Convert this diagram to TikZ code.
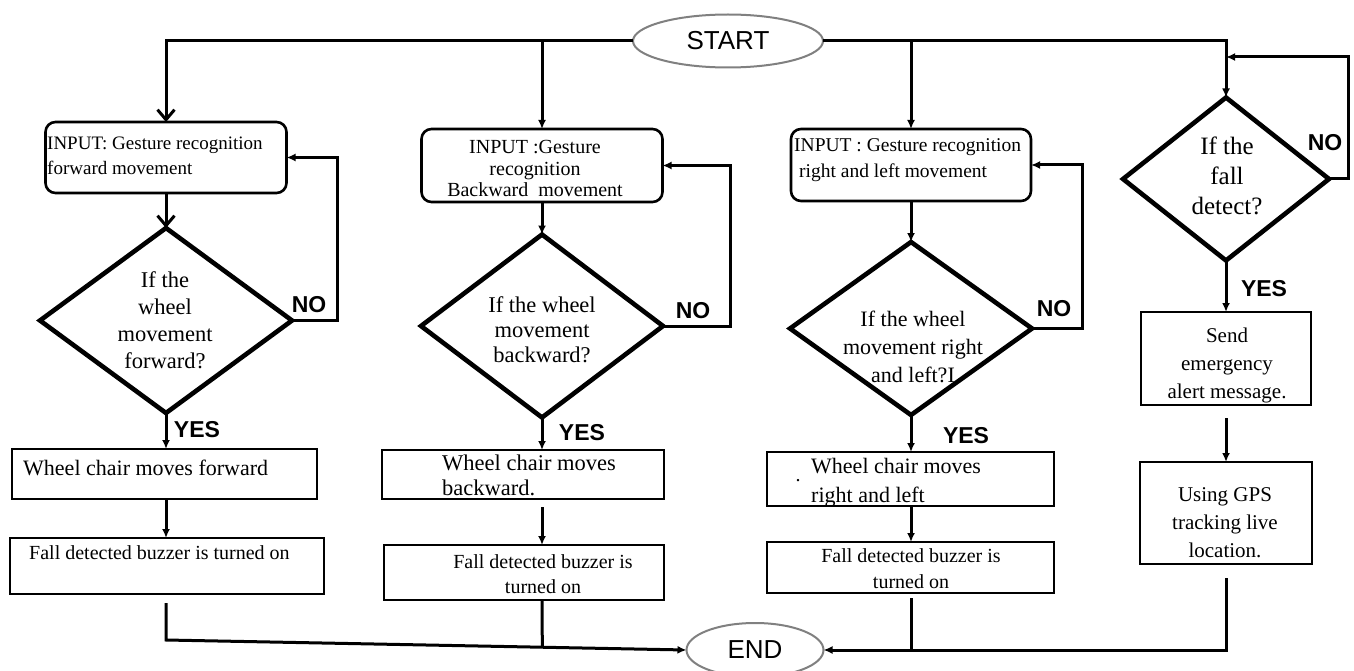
\documentclass[tikz,border=0pt]{standalone}
\usepackage{fontspec}
\setmainfont{Liberation Serif}
\newfontfamily\lsans{Liberation Sans}
\usetikzlibrary{arrows.meta,shapes.geometric,calc}
\newcommand\fsz[2]{\fontsize{#1}{#2}\selectfont}
\tikzset{
 ln/.style={line width=3pt, draw=black},
 arr/.style={ln, -{Latex[length=9pt,width=8pt]}},
 varr/.style={ln, -{Straight Barb[length=10pt,width=17pt,line width=3pt]}},
 rbox/.style={draw, line width=2.6pt, rounded corners=10pt, inner sep=0pt, outer sep=0pt},
 sbox/.style={draw, line width=2.6pt, inner sep=0pt, outer sep=0pt},
 dia/.style={draw, diamond, line width=4.6pt, inner sep=0pt, outer sep=0pt},
 oval/.style={draw=gray, ellipse, line width=2pt, inner sep=0pt, outer sep=0pt, fill=white, font=\lsans\fsz{26}{30}},
 yn/.style={font=\lsans\bfseries\fsz{23}{26}, inner sep=0pt},
 txt/.style={inner sep=0pt, align=center},
 ltxt/.style={inner sep=0pt, align=left, anchor=west},
}
\begin{document}
\begin{tikzpicture}[x=1pt,y=-1pt]
\useasboundingbox[fill=white] (0,0) rectangle (1354,671);

% terminals
\node[oval, minimum width=190pt, minimum height=53pt] (start) at (728,41) {START};
\node[oval, minimum width=137pt, minimum height=54pt] (end) at (755,650) {END};

% input boxes
\node[rbox, minimum width=241pt, minimum height=71pt] (in1) at (166,157.5) {};
\node[rbox, minimum width=241pt, minimum height=73pt] (in2) at (542,165.5) {};
\node[rbox, minimum width=240pt, minimum height=72pt] (in3) at (911,165) {};

% decisions
\node[dia, minimum width=252pt, minimum height=185pt] (d1) at (166,320.5) {};
\node[dia, minimum width=242pt, minimum height=183pt] (d2) at (542,326) {};
\node[dia, minimum width=242pt, minimum height=173pt] (d3) at (911,328.5) {};
\node[dia, minimum width=206pt, minimum height=163pt] (d4) at (1226,179) {};

% action boxes
\node[sbox, minimum width=305pt, minimum height=50pt] (w1) at (164.5,474) {};
\node[sbox, minimum width=282pt, minimum height=49pt] (w2) at (523,474.5) {};
\node[sbox, minimum width=287pt, minimum height=54pt] (w3) at (910.5,479) {};
\node[sbox, minimum width=314pt, minimum height=56pt] (f1) at (167,566) {};
\node[sbox, minimum width=280pt, minimum height=55pt] (f2) at (524,572.5) {};
\node[sbox, minimum width=287pt, minimum height=51pt] (f3) at (910.5,567.5) {};
\node[sbox, minimum width=170pt, minimum height=93pt] (s4) at (1226,358.5) {};
\node[sbox, minimum width=172pt, minimum height=102pt] (g4) at (1226,513) {};

% texts
\node[ltxt, font=\fsz{19}{25}] (t1) at (47,155.5) {INPUT: Gesture recognition\\forward movement};
\node[txt, font=\fsz{20}{21.5}] (t2) at (535,168.5) {INPUT :Gesture\\recognition\\Backward\ \ movement};
\node[ltxt, font=\fsz{19.5}{26}] (t3) at (794,160) {INPUT : Gesture recognition\\\hspace*{5pt}right and left movement};
\node[txt, font=\fsz{22.5}{27}] (u1) at (165,320) {If the\\wheel\\movement\\forward?};
\node[txt, font=\fsz{22.5}{25}] (u2) at (542,330) {If the wheel\\movement\\backward?};
\node[txt, font=\fsz{22}{28}] (u3) at (913,347) {If the wheel\\movement right\\and left?I};
\node[txt, font=\fsz{25}{30}] (u4) at (1227,176) {If the\\fall\\detect?};
\node[ltxt, font=\fsz{22}{25}] (v1) at (23,468) {Wheel chair moves forward};
\node[ltxt, font=\fsz{22.5}{25}] (v2) at (442,475.5) {Wheel chair moves\\backward.};
\node[ltxt, font=\fsz{22}{29}] (v3) at (811,482.5) {Wheel chair moves\\right and left};
\node[inner sep=0pt, font=\fsz{20}{20}] (dot) at (798,481) {.};
\node[ltxt, font=\fsz{20}{25}] (x1) at (29,553) {Fall detected buzzer is turned on};
\node[txt, font=\fsz{20}{25}] (x2) at (543,574.5) {Fall detected buzzer is\\turned on};
\node[txt, font=\fsz{20}{26}] (x3) at (911,569) {Fall detected buzzer is\\turned on};
\node[txt, font=\fsz{21}{28}] (y4) at (1227,365) {Send\\emergency\\alert message.};
\node[txt, font=\fsz{21}{28}] (z4) at (1225,523) {Using GPS\\tracking live\\location.};

% yes / no labels
\node[yn] (yes1) at (197,430) {YES};
\node[yn] (yes2) at (582,433) {YES};
\node[yn] (yes3) at (966,436) {YES};
\node[yn] (yes4) at (1264,289) {YES};
\node[yn] (no1) at (309,305) {NO};
\node[yn] (no2) at (693,311) {NO};
\node[yn] (no3) at (1054,309) {NO};
\node[yn] (no4) at (1325,143) {NO};

% start branches
\draw[varr] (start.west) -| (in1.north);
\draw[arr] (in2.north |- start.west) -- (in2.north);
\draw[arr] (in3.north |- start.east) -- (in3.north);
\draw[arr] (start.east) -| (d4.north);

% input -> decision
\draw[varr] (in1.south) -- (d1.north);
\draw[arr] (in2.south) -- (d2.north);
\draw[arr] (in3.south) -- (d3.north);

% NO loops
\draw[arr] (d1.east) -- ++(45,0) |- (in1.east);
\draw[arr] (d2.east) -- ++(67,0) |- (in2.east);
\draw[arr] (d3.east) -- ++(50,0) |- (in3.east);
\coordinate (j4) at (1226,57);
\draw[arr] (d4.east) -- ++(19,0) |- (j4);

% YES
\draw[arr] (d1.south) -- (d1.south |- w1.north);
\draw[arr] (d2.south) -- (d2.south |- w2.north);
\draw[arr] (d3.south) -- (d3.south |- w3.north);
\draw[arr] (d4.south) -- (d4.south |- s4.north);

% wheel -> fall
\draw[arr] (d1.south |- w1.south) -- (d1.south |- f1.north);
\draw[arr, shorten <=8pt] (d2.south |- w2.south) -- (d2.south |- f2.north);
\draw[arr] (d3.south |- w3.south) -- (d3.south |- f3.north);
\draw[arr, shorten <=13pt] (s4.south) -- (g4.north);

% to END
\coordinate (b1) at (166,640);
\path (b1) -- (end.west) coordinate[pos=0.723] (b2);
\draw[arr, shorten <=9pt] (d1.south |- f1.south) -- (b1) -- (end.west);
\draw[ln] (d2.south |- f2.south) -- (b2);
\draw[ln, shorten <=5pt] (d3.south |- f3.south) -- (d3.south |- end.east);
\draw[arr, shorten <=14pt] (g4.south) -- (g4.south |- end.east) -- (end.east);
\end{tikzpicture}
\end{document}
